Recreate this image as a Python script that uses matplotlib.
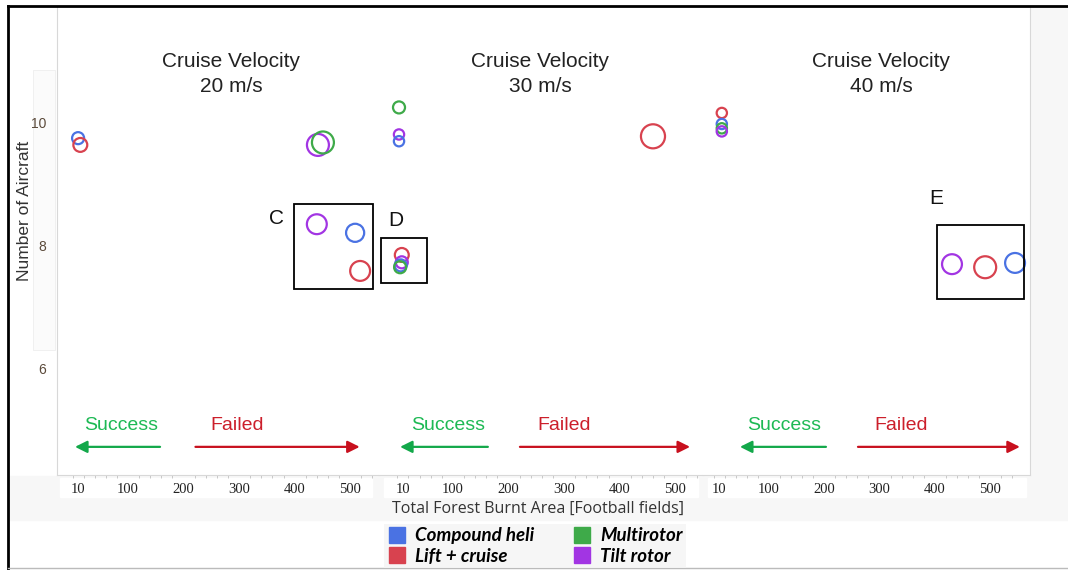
import numpy as np
import matplotlib
matplotlib.use('Agg')
import matplotlib.pyplot as plt
from matplotlib.lines import Line2D
from matplotlib.patches import Rectangle

# ---- data ----
velocities = ['20 m/s', '30 m/s', '40 m/s']
aircraft = ['Compound heli', 'Lift + cruise', 'Multirotor', 'Tilt rotor']
colors = {'Compound heli': '#4a72e3', 'Lift + cruise': '#d8424f',
          'Multirotor': '#3eaa49', 'Tilt rotor': '#a235e3'}

# burnt area [football fields], number of aircraft, bubble size, type
v20_area = [10, 14, 442, 451, 440, 509, 518]
v20_num = [9.74, 9.63, 9.63, 9.67, 8.34, 8.20, 7.58]
v20_size = [75, 100, 250, 250, 205, 170, 205]
v20_type = ['Compound heli', 'Lift + cruise', 'Tilt rotor', 'Multirotor',
            'Tilt rotor', 'Compound heli', 'Lift + cruise']

v30_area = [3, 3, 3, 460, 8, 8, 6, 5]
v30_num = [10.24, 9.80, 9.69, 9.77, 7.84, 7.72, 7.67, 7.64]
v30_size = [75, 55, 55, 300, 100, 75, 75, 75]
v30_type = ['Multirotor', 'Tilt rotor', 'Compound heli', 'Lift + cruise',
            'Lift + cruise', 'Tilt rotor', 'Compound heli', 'Multirotor']

v40_area = [15, 15, 15, 15, 431, 491, 545]
v40_num = [10.15, 9.97, 9.90, 9.85, 7.69, 7.64, 7.71]
v40_size = [55, 55, 55, 55, 205, 250, 205]
v40_type = ['Lift + cruise', 'Compound heli', 'Multirotor', 'Tilt rotor',
            'Tilt rotor', 'Lift + cruise', 'Compound heli']

x_ticks = [10, 100, 200, 300, 400, 500]
y_ticks = [6, 8, 10]

panels = [(v20_area, v20_num, v20_size, v20_type),
          (v30_area, v30_num, v30_size, v30_type),
          (v40_area, v40_num, v40_size, v40_type)]

# ---- layout ----
W, H = 1068, 570
plt.rcParams['font.family'] = ['Liberation Sans', 'DejaVu Sans']
fig = plt.figure(figsize=(W / 100, H / 100), dpi=100)
fig.patch.set_facecolor('white')

def fx(px):
    return px / W

def fy(py):
    return 1 - py / H

# grey background areas (behind the axes)
fig.patches.append(Rectangle((fx(1030), fy(520)), fx(W - 1030), (520 - 6) / H,
                             transform=fig.transFigure, color='#f7f7f7', zorder=-2))
fig.patches.append(Rectangle((fx(8), fy(520)), fx(1030 - 8), (520 - 476) / H,
                             transform=fig.transFigure, color='#f7f7f7', zorder=-2))
for (a, b) in [(60, 372), (384, 698), (708, 1026)]:
    fig.patches.append(Rectangle((fx(a), fy(497)), fx(b - a), (497 - 478) / H,
                                 transform=fig.transFigure, color='white', zorder=-1))
fig.patches.append(Rectangle((fx(33), fy(350)), fx(22), (350 - 70) / H,
                             transform=fig.transFigure, facecolor='#fbfbfb',
                             edgecolor='#eeeeee', lw=0.6, zorder=-1))
# outer frame
fig.add_artist(Line2D([fx(8), fx(8)], [fy(569), fy(6)], color='black', lw=2))
fig.add_artist(Line2D([fx(8), 1], [fy(6), fy(6)], color='black', lw=2))
fig.add_artist(Line2D([fx(8), 1], [fy(568), fy(568)], color='#bbbbbb', lw=1))

edges = [(57, 379), (379, 703), (703, 1030)]
xlims = [(-28, 552), (-33, 550), (-19, 572)]
title_x = [231, 540, 881]
success_x = [0.199, 0.213, 0.248]
failed_x = [0.559, 0.571, 0.606]
green_arrow = [(0.32, 0.056), (0.336, 0.065), (0.376, 0.113)]
red_arrow = [(0.43, 0.94), (0.435, 0.96), (0.474, 0.969)]
boxes = [((399, 7.28), 142, 1.39, 'C', (277, 218)),
         ((-30, 7.38), 83, 0.73, 'D', (396, 221)),
         ((404, 7.12), 158, 1.21, 'E', (936, 199))]

for i, (area, num, size, kind) in enumerate(panels):
    x0, x1 = edges[i]
    ax = fig.add_axes([fx(x0), fy(475), fx(x1 - x0), (475 - 6) / H])
    ax.set_xlim(*xlims[i])
    ax.set_ylim(4.26, 11.89)
    for s in ax.spines.values():
        s.set_color('#d8d8d8')
    ax.spines['top'].set_visible(False)
    if i > 0:
        ax.spines['left'].set_visible(False)
    if i < 2:
        ax.spines['right'].set_visible(False)

    ax.scatter(area, num, s=size, facecolors='none',
               edgecolors=[colors[k] for k in kind], linewidths=1.6, zorder=3)

    ax.set_xticks(x_ticks)
    ax.set_xticklabels([str(t) for t in x_ticks])
    for t in ax.get_xticklabels():
        t.set_fontfamily('Liberation Serif')
        t.set_fontsize(10.5)
        t.set_color('#222222')
    ax.set_xticks(np.arange(0, 560, 20), minor=True)
    ax.tick_params(axis='x', which='minor', direction='out', length=2.5,
                   color='#c0c0c0')
    ax.tick_params(axis='x', which='major', length=0, pad=6)
    if i == 0:
        ax.set_yticks(y_ticks)
        ax.set_yticklabels([str(t) for t in y_ticks], fontsize=10, color='#5b4a3a')
        ax.tick_params(axis='y', length=0, pad=8)
    else:
        ax.set_yticks([])

    fig.text(fx(title_x[i]), fy(74), 'Cruise Velocity\n' + velocities[i],
             ha='center', va='center', fontsize=15, color='#222222',
             linespacing=1.45)

    (bx, by), bw, bh, lab, (lx, ly) = boxes[i]
    ax.add_patch(Rectangle((bx, by), bw, bh, fill=False, edgecolor='black',
                           lw=1.3, zorder=4, clip_on=False))
    fig.text(fx(lx), fy(ly), lab, ha='center', va='center', fontsize=15,
             color='#111111')

    ax.text(success_x[i], 0.105, 'Success', transform=ax.transAxes,
            ha='center', va='center', fontsize=14, color='#1db954')
    ax.text(failed_x[i], 0.105, 'Failed', transform=ax.transAxes,
            ha='center', va='center', fontsize=14, color='#cc1f2b')
    ax.annotate('', xy=(green_arrow[i][1], 0.06), xytext=(green_arrow[i][0], 0.06),
                xycoords='axes fraction',
                arrowprops=dict(arrowstyle='-|>', color='#13a84a', lw=1.6,
                                mutation_scale=18, shrinkA=0, shrinkB=0))
    ax.annotate('', xy=(red_arrow[i][1], 0.06), xytext=(red_arrow[i][0], 0.06),
                xycoords='axes fraction',
                arrowprops=dict(arrowstyle='-|>', color='#c8101e', lw=1.6,
                                mutation_scale=18, shrinkA=0, shrinkB=0))

fig.text(fx(25), fy(211), 'Number of Aircraft', rotation=90, ha='center',
         va='center', fontsize=12.5, color='#333333')
fig.text(fx(538), fy(509), 'Total Forest Burnt Area [Football fields]',
         ha='center', va='center', fontsize=11.5, color='#333333',
         family=['Open Sans', 'DejaVu Sans'])

handles = [Line2D([], [], marker='s', ls='none', markersize=11,
                  markerfacecolor=colors[k], markeredgecolor=colors[k])
           for k in aircraft]
leg = fig.legend(handles, aircraft, ncol=2, loc='center',
                 bbox_to_anchor=(fx(535), fy(546)), frameon=True,
                 prop=dict(family='Lato', weight='bold', style='italic', size=13.5),
                 handlelength=1.0, handletextpad=0.5, columnspacing=2.0,
                 labelspacing=0.2, borderpad=0.15, fancybox=False)
leg.get_frame().set_facecolor('#f4f4f4')
leg.get_frame().set_edgecolor('none')

fig.savefig('out.png', dpi=100)
